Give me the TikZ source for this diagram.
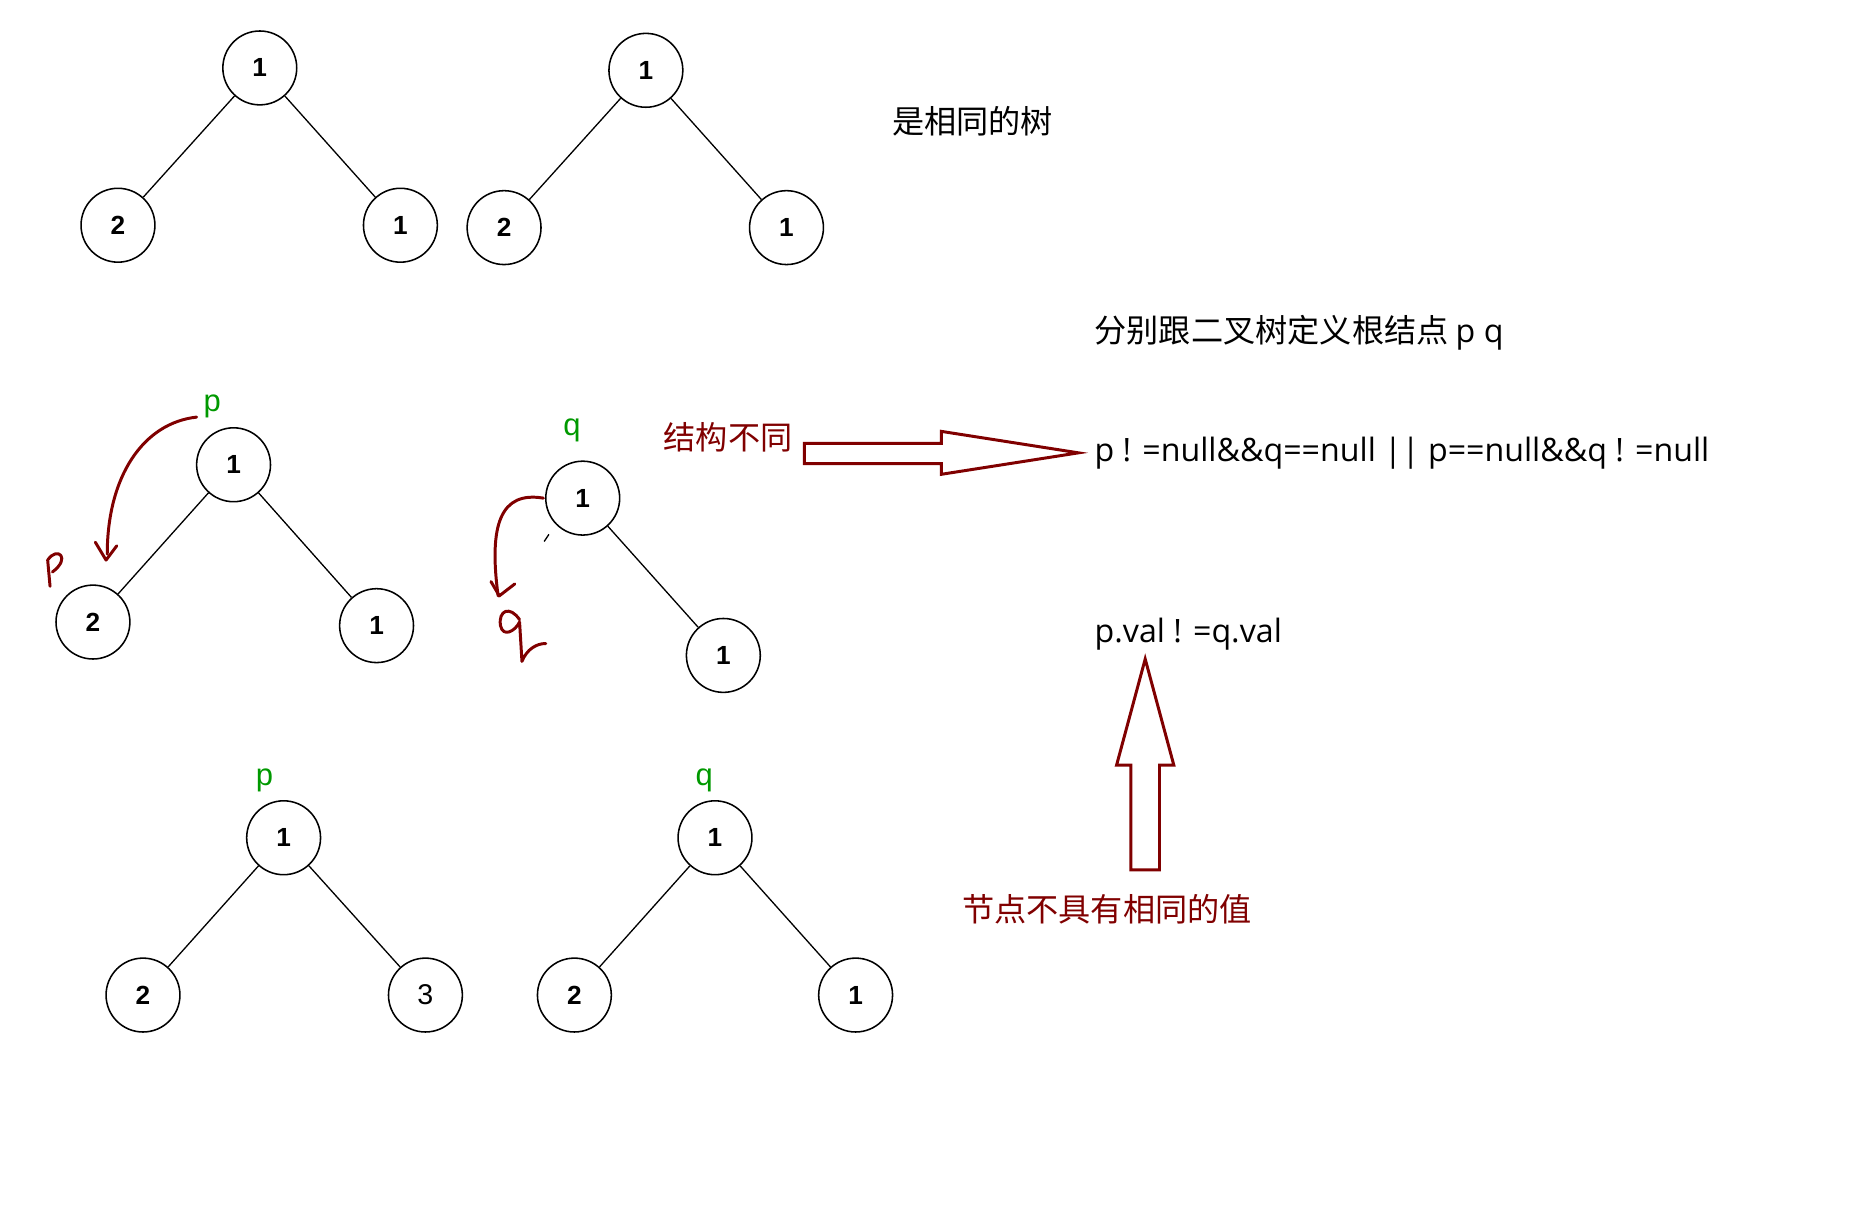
\documentclass[tikz,border=0pt]{standalone}
\usepackage{fontspec}
\setmainfont{Liberation Sans}
\newfontfamily\cjk{Noto Sans CJK SC}
\newfontfamily\lat{Open Sans}
\begin{document}
\begin{tikzpicture}[x=1pt,y=-1pt,
  tn/.style={draw,line width=1.3pt,circle,minimum size=62pt,inner sep=0pt,font=\fontsize{22}{22}\selectfont\bfseries},
  ed/.style={line width=1.1pt},
  gl/.style={text=green!60!black,font=\fontsize{26}{26}\selectfont},
  dr/.style={draw=red!50!black,line width=2.5pt,line cap=round,line join=round},
  ha/.style={draw=red!50!black,line width=2.5pt,fill=white},
  tx/.style={font=\fontsize{27}{27}\selectfont\cjk,anchor=west},
  lx/.style={font=\fontsize{27}{27}\selectfont\lat,anchor=west}]
\useasboundingbox (0,0) rectangle (1560,1026);
% tree 1
\node[tn] (a1) at (218,57) {1};
\node[tn] (a2) at (99,189) {2};
\node[tn] (a3) at (336,189) {1};
\draw[ed] (a1)--(a2); \draw[ed] (a1)--(a3);
% tree 2
\node[tn] (b1) at (542,59) {1};
\node[tn] (b2) at (423,191) {2};
\node[tn] (b3) at (660,191) {1};
\draw[ed] (b1)--(b2); \draw[ed] (b1)--(b3);
% tree 3
\node[tn] (c1) at (196,390) {1};
\node[tn] (c2) at (78,522) {2};
\node[tn] (c3) at (316,525) {1};
\draw[ed] (c1)--(c2); \draw[ed] (c1)--(c3);
\node[gl] (pl1) at (178,341) {p};
% tree 4
\node[tn] (d1) at (489,418) {1};
\node[tn] (d3) at (607,550) {1};
\draw[ed] (d1)--(d3);
\draw[ed] (d1.south west) ++(-6,8) coordinate (dx) -- +(-4,6);
\node[gl] (ql1) at (480,361) {q};
% tree 5
\node[tn] (e1) at (238,703) {1};
\node[tn] (e2) at (120,835) {2};
\node[tn,font=\fontsize{24}{24}\selectfont] (e3) at (357,835) {3};
\draw[ed] (e1)--(e2); \draw[ed] (e1)--(e3);
\node[gl] (pl2) at (222,655) {p};
% tree 6
\node[tn] (f1) at (600,703) {1};
\node[tn] (f2) at (482,835) {2};
\node[tn] (f3) at (718,835) {1};
\draw[ed] (f1)--(f2); \draw[ed] (f1)--(f3);
\node[gl] (ql2) at (591,655) {q};
% handwritten strokes
\coordinate (h1) at (165,350);
\draw[dr] (h1) .. controls (120,355) and (90,400) .. (90,465);
\draw[dr] (80,455) -- (89,470) -- (98,458);
\draw[dr] (42,492) -- (40,470) .. controls (48,458) and (60,468) .. (44,480);
\coordinate (h2) at (456,418);
\draw[dr] (h2) .. controls (420,412) and (410,440) .. (418,500);
\draw[dr] (412,488) -- (419,500) -- (432,490);
\draw[dr] (436,520) .. controls (428,508) and (418,512) .. (420,525) .. controls (422,535) and (432,530) .. (436,522) -- (438,555) .. controls (442,545) and (450,540) .. (458,540);
% texts
\node[tx] (t1) at (745,102) {是相同的树};
\node[tx] (t2) at (915,279) {分别跟二叉树定义根结点 {\lat p q}};
\node[tx,text=red!50!black,anchor=center] (t3) at (611,367) {结构不同};
\node[lx] (t4) at (915,380) {p ! =null\&\&q==null || p==null\&\&q ! =null};
\node[lx] (t5) at (915,532) {p.val ! =q.val};
\node[tx,text=red!50!black,anchor=center] (t6) at (929,763) {节点不具有相同的值};
% hollow arrows
\draw[ha] (675,372) -- (790,372) -- (790,362) -- (905,380) -- (790,398) -- (790,389) -- (675,389) -- cycle;
\draw[ha] (949,730) -- (949,642) -- (937,642) -- (961,553) -- (985,642) -- (973,642) -- (973,730) -- cycle;
\end{tikzpicture}
\end{document}
